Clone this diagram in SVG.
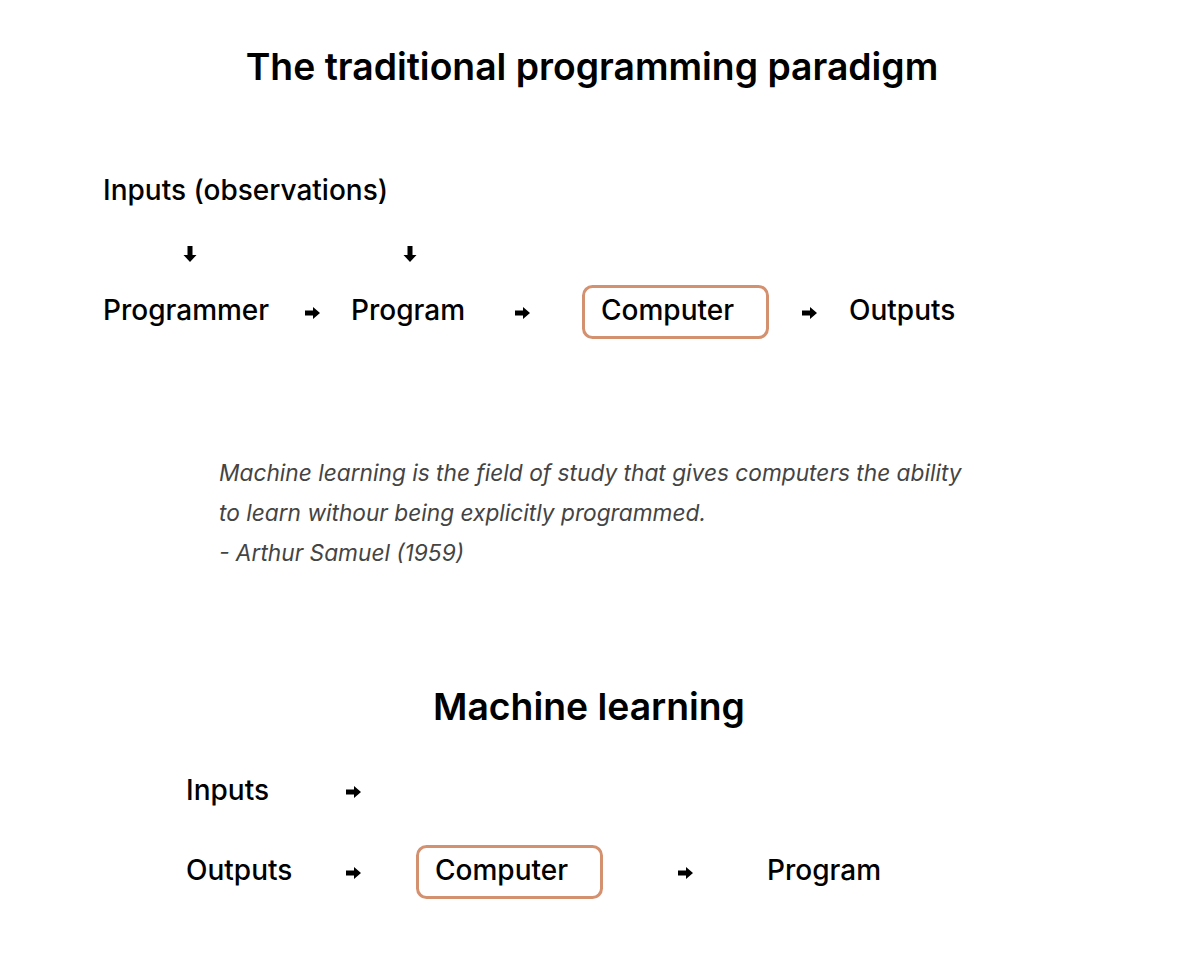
<svg xmlns="http://www.w3.org/2000/svg" width="1183" height="980" viewBox="0 0 1183 980">
<style>
.t{font-family:Inter,"Liberation Sans",sans-serif;fill:#000}
.h{font-size:37.3px;font-weight:600;text-anchor:middle}
.n{font-size:28px;font-weight:500}
.q{font-family:Inter,"Liberation Sans",sans-serif;font-size:22.7px;font-style:italic;fill:#444}
.box{fill:#fff;stroke:#D4916F;stroke-width:3}
.ar{fill:#000}
</style>
<defs>
<path id="ra" d="M0,-2.5 H8 V-6 L15,0 L8,6 V2.5 H0 Z"/>
<path id="da" d="M-2.5,0 V9 H-6.5 L0,16 L6.5,9 H2.5 V0 Z"/>
</defs>
<rect width="1183" height="980" fill="#fff"/>
<g id="title1"><text class="t h" x="592" y="80">The traditional programming paradigm</text></g>
<g id="inputs-obs"><text class="t n" x="103" y="200">Inputs (observations)</text></g>
<g id="programmer"><text class="t n" x="103" y="320">Programmer</text></g>
<g id="program1"><text class="t n" x="351" y="320">Program</text></g>
<g id="computer1"><rect class="box" x="583.5" y="286.5" width="184" height="51" rx="9"/><text class="t n" x="601" y="320">Computer</text></g>
<g id="outputs1"><text class="t n" x="849" y="320">Outputs</text></g>
<g id="quote">
<text class="q" x="219" y="481">Machine learning is the field of study that gives computers the ability</text>
<text class="q" x="219" y="521">to learn withour being explicitly programmed.</text>
<text class="q" x="219" y="561">- Arthur Samuel (1959)</text>
</g>
<g id="title2"><text class="t h" x="589" y="720">Machine learning</text></g>
<g id="inputs2"><text class="t n" x="186" y="800">Inputs</text></g>
<g id="outputs2"><text class="t n" x="186" y="880">Outputs</text></g>
<g id="computer2"><rect class="box" x="417.5" y="846.5" width="184" height="51" rx="9"/><text class="t n" x="435" y="880">Computer</text></g>
<g id="program2"><text class="t n" x="767" y="880">Program</text></g>
<g id="connectors" class="ar">
<use href="#da" x="190" y="246"/>
<use href="#da" x="410" y="246"/>
<use href="#ra" x="305" y="313"/>
<use href="#ra" x="515" y="313"/>
<use href="#ra" x="802" y="313"/>
<use href="#ra" x="346" y="792"/>
<use href="#ra" x="346" y="873"/>
<use href="#ra" x="678" y="873"/>
</g>
</svg>
